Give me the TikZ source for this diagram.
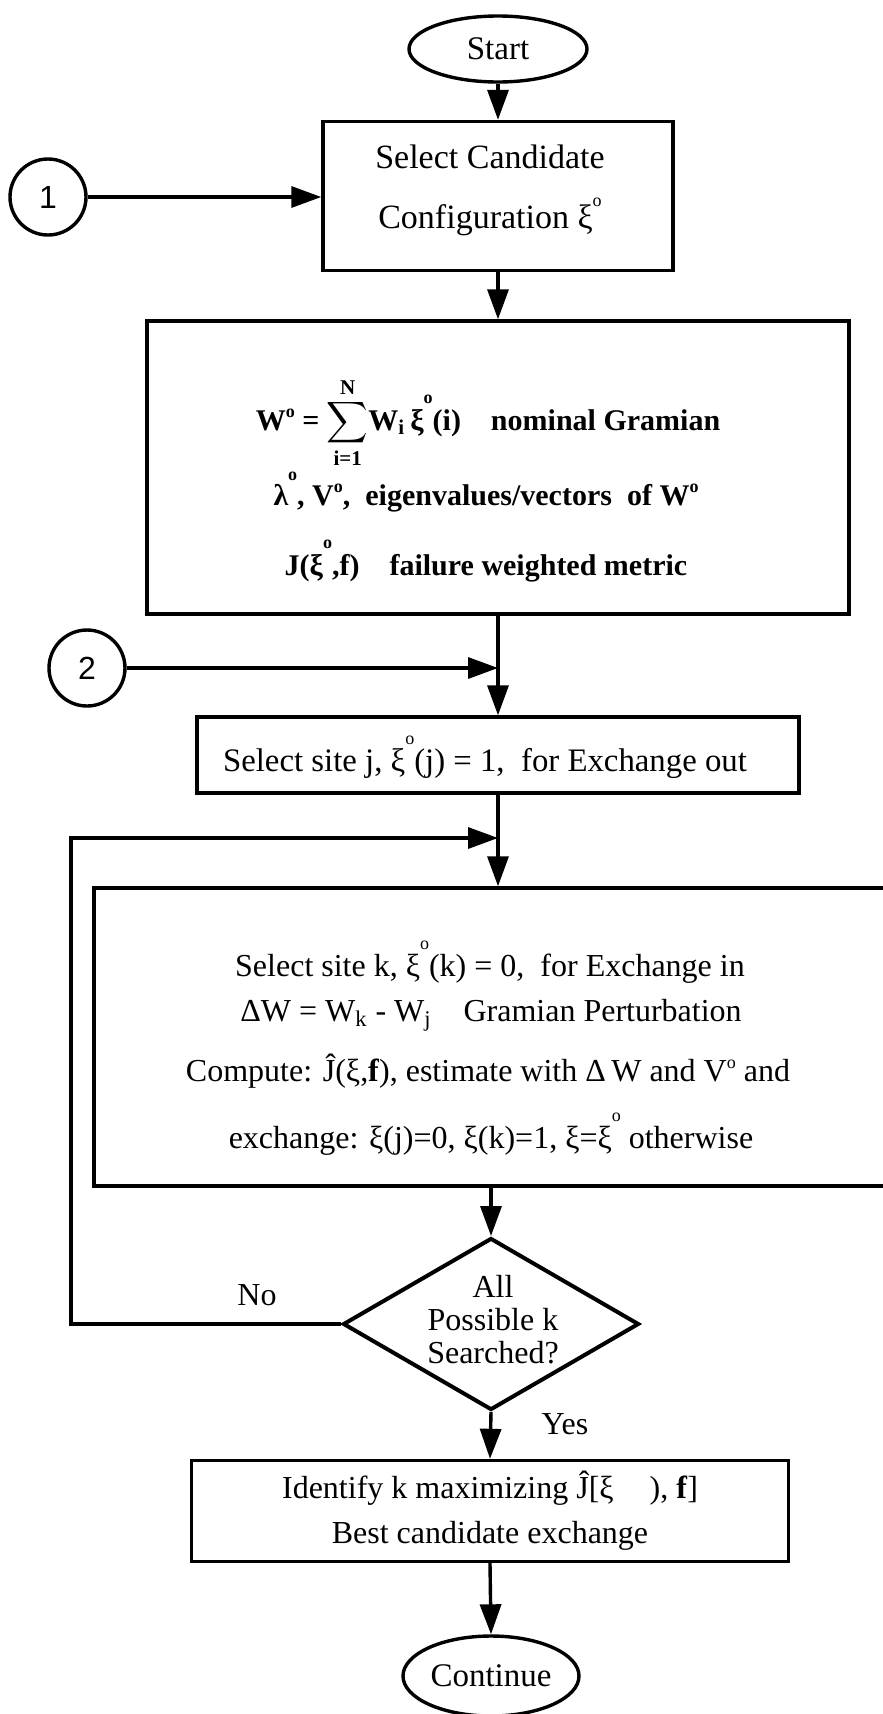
\documentclass[tikz,border=0pt]{standalone}
\usepackage{fontspec}
\usepackage{amsmath}
\setmainfont{Liberation Serif}
\newfontfamily\circfont{Liberation Sans}
\usetikzlibrary{arrows.meta,shapes.geometric}
\newcommand{\supo}[1]{\raisebox{#1}{\fontsize{9}{9}\selectfont o}}
\begin{document}
\begin{tikzpicture}[x=0.5pt,y=-0.5pt,line width=1.7pt,
  box/.style={draw,rectangle,inner sep=0pt,line width=1.7pt},
  term/.style={draw,ellipse,inner sep=0pt,line width=1.7pt,font=\fontsize{16.5}{18}\selectfont},
  conn/.style={draw,circle,minimum size=38pt,inner sep=0pt,line width=1.7pt,font=\circfont\fontsize{16}{18}\selectfont},
  decision/.style={draw,diamond,inner sep=0pt,line width=2pt,minimum width=148pt,minimum height=86pt},
  arr/.style={-{Triangle[length=15pt,width=10.5pt]},line width=1.7pt},
  txt/.style={inner sep=0pt,align=center,font=\fontsize{16}{25}\selectfont},
  btxt/.style={inner sep=0pt,anchor=base,font=\bfseries\fontsize{15}{20}\selectfont}]
\useasboundingbox (0,0) rectangle (883,1714);
\clip (0,0) rectangle (883,1714);

% terminals and connectors
\node[term,minimum width=89pt,minimum height=33pt] (start) at (498,49) {Start};
\node[conn] (c1) at (48,197) {1};
\node[conn] (c2) at (87,668) {2};

% box 1
\node[box,minimum width=175pt,minimum height=74.5pt] (b1) at (498,196) {};
\node[txt,font=\fontsize{17}{30}\selectfont] (b1t) at (490,190)
  {Select Candidate\\Configuration ξ\supo{1.4ex}};

% box 2
\node[box,minimum width=351pt,minimum height=146.5pt] (b2) at (498,467.5) {};
\node[btxt] (b2a) at (488,430) {W\supo{0.9ex} = $\smash{\displaystyle\sum_{\text{i=1}}^{\text{N}}}$W\textsubscript{i}\,ξ\supo{1.9ex}(i)\quad nominal Gramian};
\node[btxt] (b2b) at (486,505) {λ\supo{1.8ex}, V\supo{0.9ex},\ \ eigenvalues/vectors\ \ of W\supo{0.9ex}};
\node[btxt] (b2c) at (486,575) {J(ξ\supo{1.9ex},f)\quad failure weighted metric};

% box 3
\node[box,minimum width=301pt,minimum height=38pt] (b3) at (498,755) {};
\node[txt,font=\fontsize{16.4}{20}\selectfont] (b3t) at (485,757)
  {Select site j, ξ\supo{1.8ex}(j) = 1,\ \ for Exchange out};

% box 4
\node[box,minimum width=398pt,minimum height=149pt] (b4) at (492,1037) {};
\node[txt] (b4a) at (490,962) {Select site k, ξ\supo{1.8ex}(k) = 0,\ \ for Exchange in};
\node[txt] (b4b) at (491,1015) {ΔW = W\textsubscript{k} - W\textsubscript{j}\quad Gramian Perturbation};
\node[txt] (b4c) at (488,1071) {Compute: Ĵ(ξ,\textbf{f}), estimate with Δ\,W and V\supo{0.9ex} and};
\node[txt] (b4d) at (491,1134) {exchange: ξ(j)=0, ξ(k)=1, ξ=ξ\supo{1.8ex} otherwise};

% decision
\node[decision] (dec) at (491,1324) {};
\node[txt,font=\fontsize{16}{16.5}\selectfont] (dect) at (493,1320) {All\\Possible k\\Searched?};
\node[txt] (no) at (257,1295) {No};
\node[txt] (yes) at (565,1424) {Yes};

% box 5
\node[box,txt,minimum width=298.5pt,minimum height=50.5pt,font=\fontsize{16}{22.5}\selectfont] (b5) at (490,1511)
  {Identify k maximizing Ĵ[ξ\hspace{18pt}), \textbf{f}]\\Best candidate exchange};

% continue
\node[term,minimum width=88pt,minimum height=40pt] (cont) at (491,1676) {Continue};

% junctions
\coordinate (jl) at (498,838);
\coordinate (lc) at (71,838);

% connectors
\draw[arr] (start.south) -- (b1.north);
\draw[arr] (c1.east) -- (c1.east -| b1.west);
\draw[arr] (b1.south) -- (b2.north);
\draw[arr] (b2.south) -- (b3.north);
\draw[arr] (c2.east) -- (c2.east -| b2.south);
\draw[arr] (b3.south) -- (b3.south |- b4.north);
\draw[arr] (dec.west) -| (lc) -- (jl);
\draw[arr] (b4.south -| dec.north) -- (dec.north);
\draw[arr] (dec.south) -- (b5.north);
\draw[arr] (b5.south) -- (cont.north);
\end{tikzpicture}
\end{document}
